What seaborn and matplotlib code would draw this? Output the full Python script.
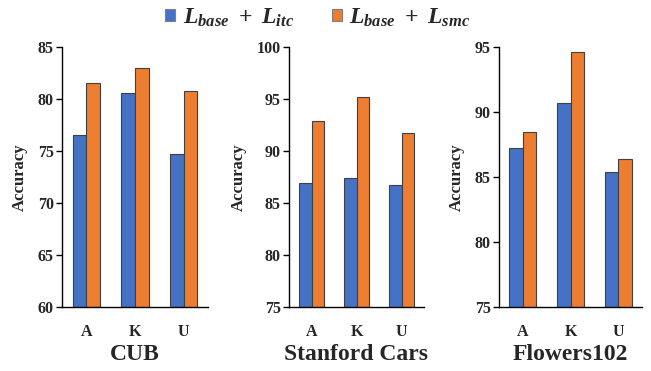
import numpy as np
import pandas as pd
import matplotlib
matplotlib.use("Agg")
import matplotlib.pyplot as plt
from matplotlib.patches import Patch
import seaborn as sns

# data
splits = ["A", "K", "U"]
losses = ["itc", "smc"]
datasets = ["CUB", "Stanford Cars", "Flowers102"]
itc_acc = {
    "CUB": [76.5, 80.6, 74.7],
    "Stanford Cars": [86.9, 87.4, 86.7],
    "Flowers102": [87.2, 90.7, 85.4],
}
smc_acc = {
    "CUB": [81.5, 83.0, 80.8],
    "Stanford Cars": [92.9, 95.2, 91.7],
    "Flowers102": [88.5, 94.6, 86.4],
}
ylims = {"CUB": (60, 85), "Stanford Cars": (75, 100), "Flowers102": (75, 95)}
legend_labels = [r"$L_{base}\ +\ L_{itc}$", r"$L_{base}\ +\ L_{smc}$"]

BLUE = "#4472C4"
ORANGE = "#ED7D31"
EDGE = "#404040"

sns.set_style("white")
plt.rcParams["font.family"] = ["Liberation Serif", "DejaVu Serif"]
plt.rcParams["font.weight"] = "bold"
plt.rcParams["mathtext.fontset"] = "custom"
plt.rcParams["mathtext.it"] = "Liberation Serif:italic:bold"
plt.rcParams["mathtext.rm"] = "Liberation Serif:bold"
plt.rcParams["mathtext.bf"] = "Liberation Serif:bold"

fig = plt.figure(figsize=(6.51, 3.71), dpi=100)
W, H = 651, 371
boxes = [(62, 208), (289, 424), (499, 642)]
ylabel_x = [28, 247, 465]   # anchor of the rotated label, px
top_px, bot_px = 47, 307

for name, (x0, x1), lx in zip(datasets, boxes, ylabel_x):
    ax = fig.add_axes([x0 / W, 1 - bot_px / H, (x1 - x0) / W, (bot_px - top_px) / H])
    df = pd.DataFrame({
        "split": splits * 2,
        "loss": [losses[0]] * 3 + [losses[1]] * 3,
        "acc": itc_acc[name] + smc_acc[name],
    })
    sns.barplot(data=df, x="split", y="acc", hue="loss", palette=[BLUE, ORANGE],
                saturation=1, width=0.56, edgecolor=EDGE, linewidth=0.8, ax=ax,
                legend=False)
    lo, hi = ylims[name]
    ax.set_ylim(lo, hi)
    ax.set_yticks(np.arange(lo, hi + 1, 5))
    ax.set_xlim(-0.5, 2.5)
    ax.set_xticks([-0.5, 0.5, 1.5, 2.5], minor=True)
    ax.tick_params(axis="x", which="major", length=0, pad=12, labelsize=11.5)
    ax.tick_params(axis="x", which="minor", direction="in", length=4, width=1, color="black")
    ax.tick_params(axis="y", which="major", direction="out", length=4, width=1,
                   color="black", labelsize=11.5, pad=2, left=True)
    for lab in ax.get_xticklabels() + ax.get_yticklabels():
        lab.set_fontweight("bold")
    sns.despine(ax=ax)
    for s in ["left", "bottom"]:
        ax.spines[s].set_color("black")
        ax.spines[s].set_linewidth(1)
    ax.set_ylabel("Accuracy", fontsize=12, fontweight="bold")
    ax.yaxis.set_label_coords((lx - x0) / (x1 - x0), 0.5)
    ax.set_xlabel(name, fontsize=17, fontweight="bold", labelpad=3)

handles = [Patch(facecolor=BLUE, edgecolor="#7f7f7f", linewidth=0.8),
           Patch(facecolor=ORANGE, edgecolor="#7f7f7f", linewidth=0.8)]
fig.legend(handles, legend_labels, loc="upper center", bbox_to_anchor=(0.488, 1.04),
           ncol=2, frameon=False, fontsize=17, handlelength=0.45, handleheight=0.45,
           handletextpad=0.3, columnspacing=1.6)

fig.savefig("out.png", dpi=100)
